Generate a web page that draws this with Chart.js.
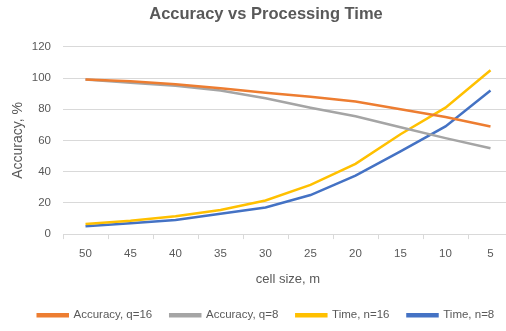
<!DOCTYPE html>
<html><head><meta charset="utf-8">
<script src="https://cdn.jsdelivr.net/npm/chart.js@4/dist/chart.umd.min.js"></script>
<style>html,body{margin:0;padding:0;overflow:hidden;background:#fff;width:506px;height:331px}
#wrap{width:532px;height:331px;position:relative}</style>
</head><body><div id="wrap"><canvas id="c"></canvas></div>
<script>
const categories = ["50","45","40","35","30","25","20","15","10","5"];
const accQ16 = [99, 98, 96, 93.5, 90.5, 88, 85, 80, 75, 69];
const accQ8  = [99, 97, 95, 92, 87, 81, 75.5, 68.5, 61.5, 55];
const timeN16 = [6.5, 8.5, 11.5, 15.5, 21.5, 31.5, 45, 64, 81, 105];
const timeN8  = [5, 7, 9, 13, 17, 25, 37.5, 53, 69, 92];
const yTicks = [0, 20, 40, 60, 80, 100, 120];
const FONT = "'Liberation Sans', 'DejaVu Sans', sans-serif";
const TXT = '#595959';
function ds(label, data, color){
  return {label, data, borderColor: color, backgroundColor: color, borderWidth: 2.5,
    pointRadius: 0, tension: 0, fill: false};
}
new Chart(document.getElementById('c'), {
  type: 'line',
  data: { labels: categories, datasets: [
    ds('Accuracy, q=16', accQ16, '#ED7D31'),
    ds('Accuracy, q=8', accQ8, '#A5A5A5'),
    ds('Time, n=16', timeN16, '#FFC000'),
    ds('Time, n=8', timeN8, '#4472C4')
  ]},
  options: {
    responsive: true, maintainAspectRatio: false, animation: false,
    layout: { padding: { left: 0, right: 0, top: 3, bottom: 0 } },
    plugins: {
      title: { display: true, text: 'Accuracy vs Processing Time', color: '#595959',
        font: { family: FONT, size: 16.5, weight: 'bold' }, padding: { top: 2, bottom: 22 } },
      legend: { position: 'bottom', labels: { color: TXT, font: { family: FONT, size: 11.5 },
        boxWidth: 30, boxHeight: 2, padding: 18 } },
      tooltip: { enabled: false }
    },
    scales: {
      x: {
        offset: true,
        grid: { display: true, drawOnChartArea: false, offset: true, tickLength: 5, color: '#D9D9D9' },
        border: { display: true, color: '#D9D9D9' },
        ticks: { color: TXT, font: { family: FONT, size: 11.5 }, padding: 8 },
        title: { display: true, text: 'cell size, m', color: TXT, font: { family: FONT, size: 13 }, padding: { top: 3 } }
      },
      y: {
        min: 0, max: 120,
        afterBuildTicks: s => { s.ticks = yTicks.map(v => ({ value: v })); },
        afterFit: s => { s.width = 63; },
        grid: { color: '#D9D9D9', drawTicks: false },
        border: { display: false },
        ticks: { color: TXT, font: { family: FONT, size: 11.5 }, padding: 12 },
        title: { display: true, text: 'Accuracy, %', color: TXT, font: { family: FONT, size: 14 }, padding: { top: 10, bottom: 6 } }
      },
      yPad: {
        position: 'right', display: true,
        afterFit: s => { s.width = 19; },
        grid: { display: false }, border: { display: false },
        ticks: { display: false }
      }
    }
  }
});
</script></body></html>
